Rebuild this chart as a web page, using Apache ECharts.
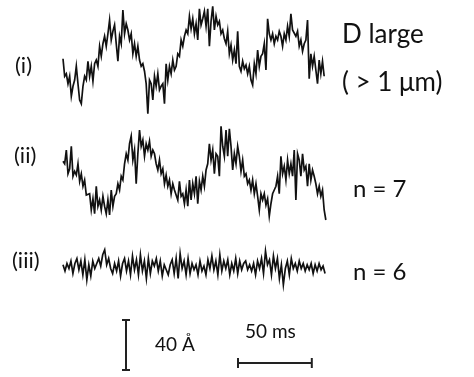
<!DOCTYPE html>
<html><head><meta charset="utf-8">
<script src="https://cdn.jsdelivr.net/npm/echarts@6/dist/echarts.min.js"></script>
<style>html,body{margin:0;padding:0;background:#fff}#c{width:474px;height:377px}</style>
</head><body><div id="c"></div>
<script>
// Labels
const traceLabels = ['(i)', '(ii)', '(iii)'];
const sideLabels = ['D large', '( > 1 \u03bcm)', 'n = 7', 'n = 6'];
const scaleLabels = ['40 \u00c5', '50 ms'];
// Scale bar sizes
const scaleAmp = 40;   // Å
const scaleTime = 50;  // ms
// Sampling interval (ms)
const dtFast = 1.127;
const dtSlow = 1.345;
// Displacement traces (Å)
const traceI = [1,-13,-11,-19,-13,-29,-21,-16,-5,-19,-32,-35,-21,-13,-16,-1,-13,-5,-17,-3,0,-5,11,3,13,19,11,21,32,16,23,28,13,-1,19,13,40,21,29,24,16,21,5,13,3,11,0,-5,-3,-9,-19,-43,-16,-19,-32,-13,-21,-11,-24,-21,-19,-35,-3,-16,-5,-11,0,-8,-5,5,3,16,11,19,24,21,
35,25,33,21,29,16,41,28,33,39,27,41,11,31,43,24,35,28,31,21,24,17,13,23,5,12,0,8,-3,23,-5,-9,-1,-7,-4,-11,-5,-16,-20,-3,-11,8,-5,3,5,13,-8,33,21,16,21,13,19,16,23,19,11,21,16,27,19,37,24,25,19,23,11,16,7,13,16,32,-15,5,-5,3,-8,-19,0,-11,-1,-13];
const traceII = [7,5,16,-3,1,19,-5,-1,-4,5,-9,-3,-13,-8,-20,-21,-19,-32,-23,-35,-13,-29,-24,-32,-21,-29,-35,-24,-36,-16,-29,-21,-19,-11,-16,-5,-8,5,13,8,21,27,8,16,-11,13,32,19,24,11,21,16,23,11,16,13,5,0,8,-3,1,-11,-4,-13,-8,-19,-11,-16,-15,-24,-9,-21,-19,-27,-16,-29,
-8,-24,-11,-19,-5,-27,-9,-16,-5,-13,0,5,21,8,16,-3,13,11,-5,35,19,11,32,11,33,19,0,13,5,19,11,-1,8,-5,-3,-11,-8,-16,-8,-19,-11,-21,-32,-19,-24,-19,-28,-23,-37,-27,-19,-16,-13,-5,-19,11,-3,3,-8,8,-3,5,-5,16,-24,13,8,-5,13,0,3,-13,5,-8,0,-5,-11,-19,-13,-21,-16,-32,-40];
const traceIII = [1,-4,2,-2,4,-6,2,6,-3,4,-7,5,-11,1,-8,4,-2,2,6,0,9,13,1,6,-2,-6,2,-4,4,-8,2,6,-4,4,-7,8,-3,5,-7,9,-4,4,-10,6,-6,4,
0,6,-4,4,-8,1,-3,-7,1,5,-6,6,-10,10,-2,4,-7,6,-6,2,-3,1,-7,4,-4,0,-7,5,-2,8,-3,4,-7,9,-4,4,-2,5,-7,2,-4,6,-6,4,-3,2,
4,-3,1,-4,2,-7,4,-2,6,-6,12,1,5,-7,8,-2,6,-10,1,-15,-2,4,-7,6,-2,2,-4,4,-2,2,-4,1,-3,2,-6,1,-4,2,-3,0,-6];

const toXY = (arr, dt) => arr.map((v, i) => [i * dt, v]);
const FONT = 'Lato, "Open Sans", sans-serif';
const INK = '#111';

const chart = echarts.init(document.getElementById('c'), null, {renderer: 'canvas'});
const grids = [
  {left: 63, width: 262, top: 0, height: 120},
  {left: 63, width: 262, top: 110, height: 120},
  {left: 63, width: 262, top: 236, height: 60}
];
const yRanges = [48, 48, 24];
const option = {
  animation: false,
  backgroundColor: '#fff',
  grid: grids,
  xAxis: grids.map((g, i) => ({type: 'value', gridIndex: i, min: 0, max: 177.5, show: false})),
  yAxis: grids.map((g, i) => ({type: 'value', gridIndex: i, min: -yRanges[i], max: yRanges[i], show: false})),
  series: [
    {type: 'line', xAxisIndex: 0, yAxisIndex: 0, data: toXY(traceI, dtFast)},
    {type: 'line', xAxisIndex: 1, yAxisIndex: 1, data: toXY(traceII, dtFast)},
    {type: 'line', xAxisIndex: 2, yAxisIndex: 2, data: toXY(traceIII, dtSlow)}
  ].map(s => Object.assign(s, {showSymbol: false, symbol: 'none', clip: false,
      lineStyle: {color: INK, width: 1.7, join: 'miter'}}))
};
chart.setOption(option);

// Scale bars sized through the axes
const p0 = chart.convertToPixel({gridIndex: 0}, [0, 0]);
const p1 = chart.convertToPixel({gridIndex: 0}, [scaleTime, scaleAmp]);
const barW = p1[0] - p0[0];
const barV = p0[1] - p1[1];
const vx = 126, vy = 320, hx = 238, hy = 363;
const stroke = {stroke: '#222', lineWidth: 2};
const txt = (t, x, y, size) => ({type: 'text', x: x, y: y,
  style: {text: t, font: size + 'px ' + FONT, fill: INK, verticalAlign: 'middle'}});
chart.setOption({graphic: [
  {type: 'line', shape: {x1: vx, y1: vy, x2: vx, y2: vy + barV}, style: stroke},
  {type: 'line', shape: {x1: vx - 4, y1: vy, x2: vx + 4, y2: vy}, style: stroke},
  {type: 'line', shape: {x1: vx - 4, y1: vy + barV, x2: vx + 4, y2: vy + barV}, style: stroke},
  {type: 'line', shape: {x1: hx, y1: hy, x2: hx + barW, y2: hy}, style: stroke},
  {type: 'line', shape: {x1: hx, y1: hy - 5, x2: hx, y2: hy + 5}, style: stroke},
  {type: 'line', shape: {x1: hx + barW, y1: hy - 5, x2: hx + barW, y2: hy + 5}, style: stroke},
  txt(traceLabels[0], 15, 66, 22),
  txt(traceLabels[1], 14, 156, 22),
  txt(traceLabels[2], 12, 261, 22),
  txt(sideLabels[0], 342, 35, 26),
  txt(sideLabels[1], 342, 83, 26),
  txt(sideLabels[2], 353, 189, 24),
  txt(sideLabels[3], 353, 272, 24),
  txt(scaleLabels[0], 155, 345, 19),
  txt(scaleLabels[1], 245, 332, 19)
]});
</script>
</body></html>
